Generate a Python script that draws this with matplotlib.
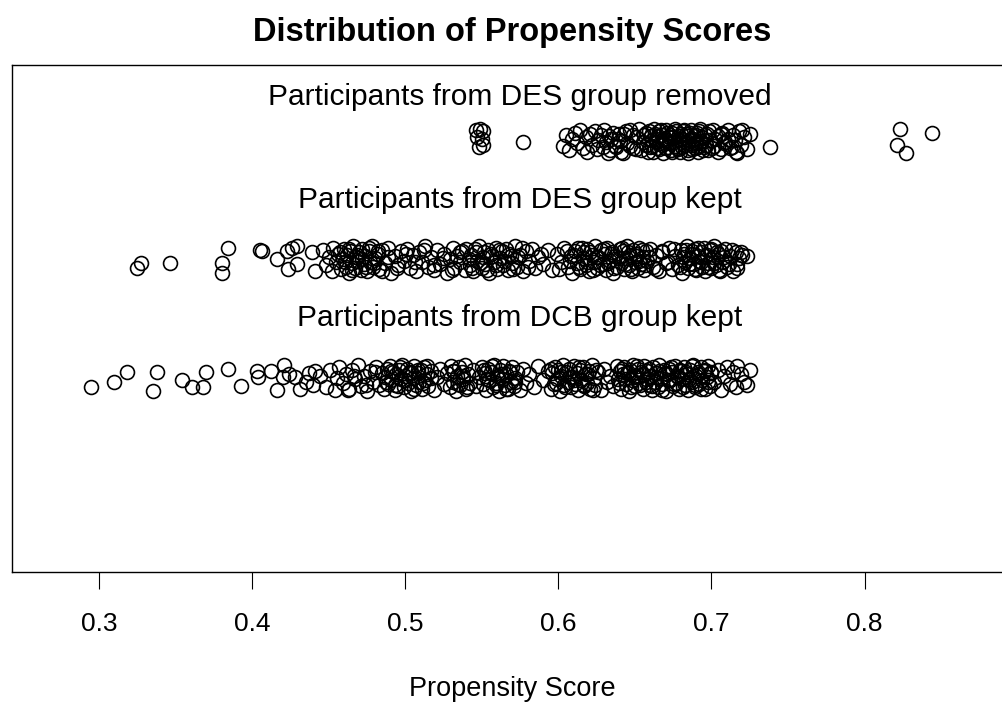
import matplotlib
matplotlib.use("Agg")
import matplotlib.pyplot as plt
import numpy as np

plt.rcParams['font.family'] = ['Liberation Sans', 'DejaVu Sans']

# (propensity score, vertical jitter)
removed = [
    (0.546, 0.09), (0.549, 0.10), (0.551, 0.08), (0.547, 0.03), (0.550, 0.02),
    (0.548, -0.05), (0.551, -0.03), (0.577, -0.01), (0.738, -0.05), (0.823, 0.10),
    (0.844, 0.07), (0.821, -0.03), (0.827, -0.10),
    (0.603, -0.04), (0.605, 0.05), (0.607, -0.08), (0.609, 0.02), (0.611, 0.07),
    (0.612, -0.02), (0.614, 0.09), (0.616, -0.06), (0.618, 0.03), (0.619, -0.09),
    (0.621, 0.06), (0.622, -0.03), (0.624, 0.08), (0.625, -0.07), (0.626, 0.01),
    (0.628, 0.05), (0.629, -0.05), (0.630, 0.09), (0.631, -0.01), (0.633, 0.04),
    (0.634, -0.08), (0.636, 0.07), (0.637, -0.04), (0.639, 0.02), (0.641, -0.09),
    (0.643, 0.06), (0.645, -0.02), (0.647, 0.09), (0.649, -0.06), (0.651, 0.03),
    (0.654, -0.08), (0.656, 0.05), (0.657, -0.03), (0.659, 0.08), (0.660, -0.05),
    (0.661, 0.01), (0.662, -0.09), (0.663, 0.06), (0.664, -0.01), (0.665, 0.04),
    (0.666, -0.07), (0.667, 0.09), (0.668, -0.03), (0.669, 0.02), (0.670, -0.06),
    (0.671, 0.07), (0.672, -0.02), (0.673, 0.05), (0.674, -0.09), (0.675, 0.03),
    (0.676, -0.04), (0.677, 0.08), (0.678, -0.07), (0.679, 0.01), (0.680, 0.06),
    (0.681, -0.05), (0.682, 0.09), (0.683, -0.01), (0.684, 0.04), (0.685, -0.08),
    (0.686, 0.07), (0.687, -0.03), (0.688, 0.02), (0.689, -0.06), (0.690, 0.05),
    (0.691, -0.09), (0.692, 0.08), (0.693, -0.02), (0.694, 0.03), (0.695, -0.05),
    (0.697, 0.06), (0.698, -0.08), (0.699, 0.01), (0.701, 0.09), (0.702, -0.04),
    (0.704, 0.04), (0.706, -0.07), (0.707, 0.07), (0.709, -0.01), (0.711, 0.02),
    (0.712, -0.06), (0.714, 0.05), (0.716, -0.09), (0.718, 0.08), (0.719, -0.03),
    (0.721, 0.03), (0.723, -0.07), (0.725, 0.06), (0.720, 0.09), (0.717, -0.10),
    # dense core
    (0.6405, 0.00), (0.6425, -0.10), (0.6445, 0.08), (0.6465, -0.04), (0.6485, 0.05),
    (0.6505, -0.07), (0.6525, 0.10), (0.6555, -0.01), (0.6575, 0.07), (0.6585, -0.09),
    (0.6605, 0.04), (0.6615, -0.04), (0.6625, 0.10), (0.6635, 0.02), (0.6645, -0.06),
    (0.6655, 0.08), (0.6665, -0.02), (0.6675, 0.05), (0.6685, -0.10), (0.6695, 0.00),
    (0.6705, 0.09), (0.6715, -0.05), (0.6725, 0.03), (0.6735, -0.08), (0.6745, 0.07),
    (0.6755, -0.01), (0.6765, 0.10), (0.6775, -0.06), (0.6785, 0.04), (0.6795, -0.09),
    (0.6805, 0.02), (0.6815, 0.08), (0.6825, -0.03), (0.6835, 0.06), (0.6845, -0.10),
    (0.6855, 0.01), (0.6865, 0.09), (0.6875, -0.07), (0.6885, 0.04), (0.6895, -0.02),
    (0.6905, 0.07), (0.6915, -0.05), (0.6925, 0.10), (0.6935, 0.00), (0.6945, -0.08),
    (0.6955, 0.05), (0.6965, -0.03), (0.6985, 0.08), (0.7005, -0.06), (0.7025, 0.02),
    (0.7045, -0.09), (0.7065, 0.06), (0.7085, -0.02), (0.7105, 0.09), (0.7135, -0.05),
    (0.7155, 0.01), (0.6395, 0.06), (0.6375, -0.05), (0.6345, 0.02), (0.6325, -0.10),
]

des_kept = [
    (0.325, -0.07), (0.3275, -0.03), (0.346, -0.03), (0.384, 0.10), (0.380, -0.03),
    (0.380, -0.11), (0.405, 0.08), (0.4065, 0.07), (0.416, 0.00), (0.423, 0.07),
    (0.426, 0.10), (0.429, 0.11), (0.4235, -0.08), (0.429, -0.04), (0.439, 0.06),
    (0.441, -0.10), (0.446, 0.08),
    (0.448, -0.05), (0.450, 0.02), (0.452, -0.10), (0.453, 0.10), (0.455, -0.02),
    (0.456, 0.05), (0.458, -0.08), (0.459, 0.00), (0.460, 0.09), (0.461, -0.06),
    (0.462, 0.04), (0.463, -0.11), (0.464, 0.07), (0.465, -0.03), (0.466, 0.11),
    (0.467, -0.07), (0.468, 0.02), (0.469, -0.01), (0.470, 0.06), (0.471, -0.09),
    (0.472, 0.09), (0.473, -0.04), (0.474, 0.03), (0.475, -0.10), (0.476, 0.07),
    (0.477, -0.02), (0.478, 0.11), (0.479, -0.06), (0.480, 0.01), (0.482, 0.05),
    (0.483, -0.08), (0.485, 0.08), (0.487, -0.03), (0.489, 0.10), (0.491, -0.11),
    (0.493, 0.03), (0.495, -0.05), (0.497, 0.07), (0.499, -0.01), (0.501, 0.09),
    (0.503, -0.07), (0.505, 0.04), (0.507, -0.10), (0.509, 0.06), (0.511, -0.02),
    (0.513, 0.11), (0.515, -0.06), (0.517, 0.02), (0.519, -0.09), (0.521, 0.08),
    (0.523, -0.04), (0.525, 0.05), (0.527, -0.11), (0.529, 0.00), (0.531, 0.10),
    (0.532, -0.07), (0.534, 0.03), (0.536, -0.02), (0.537, 0.07), (0.539, -0.09),
    (0.540, 0.09), (0.542, -0.05), (0.543, 0.04), (0.544, -0.10), (0.546, 0.06),
    (0.547, -0.01), (0.548, 0.11), (0.550, -0.07), (0.551, 0.02), (0.552, -0.04),
    (0.554, 0.08), (0.555, -0.11), (0.556, 0.05), (0.558, -0.02), (0.559, 0.10),
    (0.560, -0.08), (0.562, 0.01), (0.563, 0.07), (0.564, -0.05), (0.566, 0.09),
    (0.567, -0.09), (0.569, 0.03), (0.570, -0.03), (0.572, 0.11), (0.573, -0.06),
    (0.575, 0.04), (0.577, -0.10), (0.579, 0.07), (0.581, -0.01), (0.583, 0.09),
    (0.585, -0.07), (0.587, 0.02), (0.590, -0.04), (0.593, 0.08), (0.596, -0.09),
    (0.599, 0.05), (0.602, -0.02), (0.604, 0.10), (0.606, -0.06), (0.608, 0.03),
    (0.609, -0.11), (0.611, 0.07), (0.612, -0.03), (0.613, 0.10), (0.614, -0.08),
    (0.616, 0.01), (0.617, 0.06), (0.618, -0.05), (0.619, 0.09), (0.620, -0.10),
    (0.622, 0.04), (0.623, -0.02), (0.624, 0.11), (0.625, -0.07), (0.626, 0.02),
    (0.628, 0.08), (0.629, -0.04), (0.630, 0.05), (0.631, -0.09), (0.632, 0.10),
    (0.634, -0.01), (0.635, 0.06), (0.636, -0.11), (0.637, 0.03), (0.638, -0.06),
    (0.640, 0.09), (0.641, -0.03), (0.642, 0.07), (0.643, -0.08), (0.644, 0.01),
    (0.645, 0.11), (0.646, -0.05), (0.647, 0.04), (0.648, -0.10), (0.649, 0.08),
    (0.650, -0.02), (0.651, 0.05), (0.652, -0.07), (0.653, 0.10), (0.654, -0.04),
    (0.655, 0.02), (0.656, -0.09), (0.657, 0.07), (0.658, -0.01), (0.660, 0.09),
    (0.662, -0.06), (0.664, 0.04), (0.666, -0.10), (0.668, 0.06), (0.670, -0.03),
    (0.672, 0.10), (0.674, -0.08), (0.676, 0.03), (0.678, -0.05), (0.680, 0.08),
    (0.681, -0.11), (0.682, 0.05), (0.683, -0.02), (0.684, 0.11), (0.685, -0.07),
    (0.686, 0.01), (0.687, 0.07), (0.688, -0.04), (0.689, 0.09), (0.690, -0.09),
    (0.691, 0.03), (0.692, -0.01), (0.693, 0.06), (0.694, -0.06), (0.695, 0.10),
    (0.696, -0.10), (0.697, 0.04), (0.698, -0.03), (0.699, 0.08), (0.700, -0.07),
    (0.701, 0.02), (0.702, 0.11), (0.703, -0.05), (0.704, 0.05), (0.705, -0.09),
    (0.706, 0.07), (0.707, -0.02), (0.709, 0.09), (0.710, -0.06), (0.712, 0.03),
    (0.714, -0.10), (0.716, 0.06), (0.717, -0.04), (0.718, 0.01), (0.720, 0.04),
    (0.7235, 0.03),
    # dense clusters
    (0.4575, 0.06), (0.4605, -0.02), (0.4635, 0.09), (0.4655, -0.09), (0.4685, 0.04),
    (0.4715, 0.00), (0.4745, -0.06), (0.4765, 0.10), (0.4795, -0.03), (0.4825, 0.07),
    (0.4845, -0.10), (0.4885, 0.02), (0.4945, -0.07), (0.5005, 0.05), (0.5065, -0.02),
    (0.5125, 0.08), (0.5185, -0.05), (0.5245, 0.01), (0.5305, -0.09), (0.5355, 0.06),
    (0.5415, 0.00), (0.5435, -0.07), (0.5455, 0.09), (0.5485, -0.03), (0.5515, 0.06),
    (0.5535, -0.09), (0.5565, 0.03), (0.5595, -0.05), (0.5615, 0.08), (0.5645, -0.01),
    (0.5675, 0.05), (0.5705, -0.08), (0.5735, 0.02), (0.5765, 0.10), (0.5805, -0.06),
    (0.5885, 0.05), (0.6005, -0.08), (0.6055, 0.07), (0.6075, -0.01), (0.6105, 0.04),
    (0.6135, -0.06), (0.6155, 0.10), (0.6185, -0.02), (0.6205, 0.06), (0.6225, -0.09),
    (0.6245, 0.02), (0.6275, -0.05), (0.6295, 0.09), (0.6325, -0.03), (0.6345, 0.05),
    (0.6365, -0.07), (0.6395, 0.01), (0.6415, 0.10), (0.6435, -0.04), (0.6455, 0.06),
    (0.6475, -0.08), (0.6505, 0.03), (0.6525, -0.01), (0.6545, 0.08), (0.6565, -0.05),
    (0.6595, 0.02), (0.6635, -0.08), (0.6675, 0.07), (0.6715, -0.02), (0.6755, 0.09),
    (0.6795, -0.06), (0.6815, 0.02), (0.6835, 0.08), (0.6855, -0.04), (0.6875, 0.05),
    (0.6895, -0.08), (0.6915, 0.10), (0.6935, -0.02), (0.6955, 0.03), (0.6975, -0.06),
    (0.6995, 0.09), (0.7015, -0.03), (0.7035, 0.06), (0.7055, -0.10), (0.7085, 0.02),
    (0.7115, -0.04), (0.7135, 0.08), (0.7165, -0.07), (0.7195, 0.06),
]

dcb_kept = [
    (0.295, -0.08), (0.310, -0.03), (0.318, 0.05), (0.338, 0.05), (0.335, -0.11),
    (0.354, -0.02), (0.361, -0.08), (0.368, -0.08), (0.370, 0.05), (0.384, 0.08),
    (0.393, -0.07), (0.403, 0.06), (0.404, 0.01), (0.412, 0.06), (0.416, -0.10),
    (0.421, 0.11), (0.420, 0.01), (0.428, 0.01), (0.435, -0.03), (0.441, 0.06),
    (0.440, -0.06), (0.448, -0.08), (0.424, 0.03), (0.431, -0.09), (0.437, 0.04),
    (0.444, 0.02), (0.451, 0.07), (0.454, -0.10),
    (0.457, 0.09), (0.459, -0.04), (0.461, 0.03), (0.463, -0.09), (0.465, 0.07),
    (0.467, -0.01), (0.469, 0.11), (0.471, -0.07), (0.473, 0.02), (0.475, -0.11),
    (0.477, 0.06), (0.479, -0.03), (0.481, 0.09), (0.483, -0.06), (0.485, 0.04),
    (0.486, -0.09), (0.487, 0.01), (0.488, 0.08), (0.489, -0.05), (0.490, 0.10),
    (0.491, -0.02), (0.492, 0.05), (0.493, -0.10), (0.494, 0.03), (0.495, -0.07),
    (0.496, 0.07), (0.497, -0.01), (0.498, 0.11), (0.499, -0.08), (0.500, 0.02),
    (0.501, 0.08), (0.502, -0.04), (0.503, 0.05), (0.504, -0.11), (0.505, 0.00),
    (0.506, 0.10), (0.507, -0.06), (0.508, 0.04), (0.509, -0.03), (0.510, 0.07),
    (0.511, -0.09), (0.512, 0.09), (0.513, -0.02), (0.514, 0.03), (0.515, -0.07),
    (0.517, 0.06), (0.519, -0.10), (0.521, 0.01), (0.523, 0.08), (0.525, -0.05),
    (0.527, 0.04), (0.529, -0.08), (0.530, 0.10), (0.531, -0.03), (0.532, 0.06),
    (0.533, -0.11), (0.534, 0.02), (0.535, 0.09), (0.536, -0.06), (0.537, 0.05),
    (0.538, -0.01), (0.539, 0.11), (0.540, -0.09), (0.541, 0.03), (0.542, -0.04),
    (0.544, 0.07), (0.546, -0.07), (0.548, 0.01), (0.550, 0.09), (0.551, -0.05),
    (0.552, 0.04), (0.553, -0.10), (0.554, 0.08), (0.555, -0.02), (0.556, 0.05),
    (0.557, -0.08), (0.558, 0.11), (0.559, -0.04), (0.560, 0.02), (0.561, -0.11),
    (0.562, 0.07), (0.563, -0.01), (0.564, 0.10), (0.565, -0.06), (0.566, 0.03),
    (0.567, -0.09), (0.568, 0.06), (0.569, -0.03), (0.570, 0.09), (0.571, -0.07),
    (0.572, 0.00), (0.573, 0.05), (0.575, -0.10), (0.577, 0.08), (0.579, -0.04),
    (0.581, 0.03), (0.584, -0.08), (0.587, 0.10), (0.590, -0.02), (0.593, 0.06),
    (0.595, -0.09), (0.596, 0.04), (0.597, -0.05), (0.598, 0.09), (0.599, -0.01),
    (0.600, 0.07), (0.601, -0.11), (0.602, 0.02), (0.603, 0.11), (0.604, -0.06),
    (0.605, 0.05), (0.606, -0.03), (0.607, 0.08), (0.608, -0.08), (0.609, 0.01),
    (0.610, 0.10), (0.611, -0.05), (0.612, 0.04), (0.613, -0.10), (0.614, 0.07),
    (0.615, -0.02), (0.616, 0.09), (0.617, -0.07), (0.618, 0.03), (0.619, -0.04),
    (0.620, 0.06), (0.621, -0.09), (0.622, 0.11), (0.623, 0.00), (0.624, -0.06),
    (0.626, 0.05), (0.628, -0.10), (0.630, 0.08), (0.632, -0.03), (0.634, 0.02),
    (0.636, -0.07), (0.638, 0.10), (0.639, -0.01), (0.640, 0.06), (0.641, -0.09),
    (0.642, 0.03), (0.643, 0.09), (0.644, -0.05), (0.645, 0.04), (0.646, -0.11),
    (0.647, 0.07), (0.648, -0.02), (0.649, 0.11), (0.650, -0.07), (0.651, 0.01),
    (0.652, 0.08), (0.653, -0.04), (0.654, 0.05), (0.655, -0.09), (0.656, 0.10),
    (0.657, -0.01), (0.658, 0.06), (0.659, -0.06), (0.660, 0.02), (0.661, -0.10),
    (0.662, 0.09), (0.663, -0.03), (0.664, 0.04), (0.665, -0.08), (0.666, 0.11),
    (0.667, 0.00), (0.668, -0.05), (0.669, 0.07), (0.670, -0.11), (0.671, 0.03),
    (0.672, 0.08), (0.673, -0.02), (0.674, 0.05), (0.675, -0.07), (0.676, 0.10),
    (0.677, -0.04), (0.678, 0.01), (0.679, -0.09), (0.680, 0.06), (0.681, -0.01),
    (0.682, 0.09), (0.683, -0.06), (0.684, 0.03), (0.685, -0.10), (0.686, 0.07),
    (0.687, -0.03), (0.688, 0.11), (0.689, -0.08), (0.690, 0.02), (0.691, 0.05),
    (0.692, -0.05), (0.693, 0.09), (0.694, -0.02), (0.695, 0.06), (0.696, -0.09),
    (0.697, 0.01), (0.698, 0.10), (0.699, -0.07), (0.700, 0.04), (0.702, -0.03),
    (0.704, 0.07), (0.706, -0.10), (0.708, 0.02), (0.710, 0.09), (0.712, -0.05),
    (0.714, 0.05), (0.716, -0.08), (0.719, 0.03), (0.721, -0.03), (0.717, 0.10),
    (0.7255, 0.07), (0.723, -0.06),
    # dense clusters
    (0.4875, -0.03), (0.4905, 0.06), (0.4935, -0.06), (0.4965, 0.09), (0.4995, -0.02),
    (0.5025, 0.04), (0.5055, -0.09), (0.5085, 0.07), (0.5115, -0.04), (0.5145, 0.10),
    (0.5165, 0.00), (0.5315, 0.06), (0.5345, -0.05), (0.5375, 0.02), (0.5405, -0.08),
    (0.5515, 0.07), (0.5535, -0.01), (0.5565, 0.10), (0.5595, -0.06), (0.5625, 0.03),
    (0.5655, -0.09), (0.5685, 0.05), (0.5715, -0.03), (0.5955, 0.08), (0.5985, -0.04),
    (0.6015, 0.05), (0.6045, -0.08), (0.6075, 0.01), (0.6105, -0.02), (0.6135, 0.09),
    (0.6165, -0.06), (0.6195, 0.03), (0.6225, -0.10), (0.6245, 0.07), (0.6395, -0.04),
    (0.6415, 0.08), (0.6435, -0.01), (0.6455, 0.05), (0.6475, -0.08), (0.6495, 0.02),
    (0.6515, 0.10), (0.6535, -0.06), (0.6555, 0.03), (0.6575, -0.03), (0.6595, 0.08),
    (0.6615, -0.07), (0.6635, 0.01), (0.6655, 0.06), (0.6675, -0.10), (0.6695, 0.04),
    (0.6715, -0.02), (0.6735, 0.09), (0.6755, -0.05), (0.6775, 0.02), (0.6795, 0.07),
    (0.6815, -0.08), (0.6835, 0.05), (0.6855, -0.01), (0.6875, 0.10), (0.6895, -0.06),
    (0.6915, 0.03), (0.6935, -0.09), (0.6955, 0.07), (0.6975, -0.03), (0.6995, 0.05),
    (0.4665, 0.02), (0.4745, -0.06), (0.4805, 0.05), (0.4625, -0.10), (0.4555, 0.00),
]

groups = [removed, des_kept, dcb_kept]
group_levels = [3, 2, 1]
group_labels = ["Participants from DES group removed",
                "Participants from DES group kept",
                "Participants from DCB group kept"]
label_levels = [3.37, 2.5, 1.505]
xticks = [0.3, 0.4, 0.5, 0.6, 0.7, 0.8]

W, H = 1002, 702
fig = plt.figure(figsize=(W / 100, H / 100), dpi=100)
# plot box: left 12px, bottom 572px, top 65px; right edge falls off the canvas
ax = fig.add_axes([12 / W, (H - 572) / H, (1013 - 12) / W, (572 - 65) / H])
ax.set_xlim(0.2431, 0.897)
ax.set_ylim(-0.637, 3.641)

for pts, lev in zip(groups, group_levels):
    arr = np.array(pts)
    ax.plot(arr[:, 0], lev + arr[:, 1], 'o', mfc='none', mec='black',
            ms=10, mew=1.2, ls='none', clip_on=False)

for lab, lev in zip(group_labels, label_levels):
    ax.text(0.575, lev, lab, ha='center', va='center', fontsize=21.5)

ax.set_xticks(xticks)
ax.set_xticklabels([f"{t:g}" for t in xticks])
ax.tick_params(axis='x', length=12, width=0.8, pad=17, labelsize=19)
ax.set_yticks([])
for s in ax.spines.values():
    s.set_linewidth(1.0)

fig.text(512.5 / W, (H - 33) / H, "Distribution of Propensity Scores",
         ha='center', va='center', fontsize=23.5, fontweight='bold')
fig.text(512.5 / W, (H - 689) / H, "Propensity Score",
         ha='center', va='center', fontsize=19.5)

fig.savefig("out.png", dpi=100)
